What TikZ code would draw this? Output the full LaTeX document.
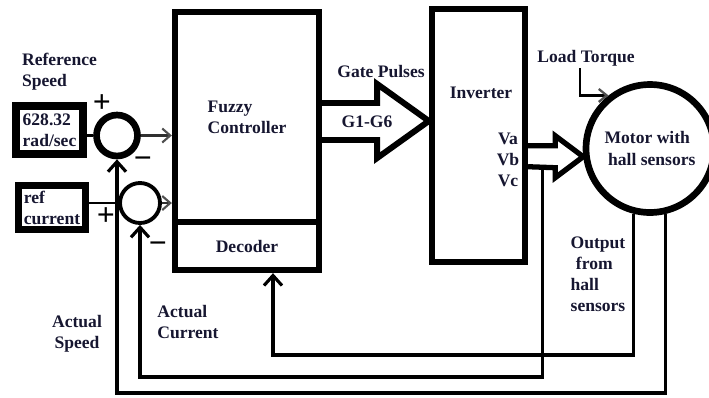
\documentclass[tikz,border=0pt]{standalone}
\usepackage{fontspec}
\setmainfont{Liberation Serif}
\usetikzlibrary{arrows.meta, positioning, calc}
\definecolor{diagText}{RGB}{22,22,48}
\definecolor{tipGray}{RGB}{80,80,80}
\tikzset{
    ctrlbox/.style={
        rectangle,
        draw=black,
        line width=3.6pt,
        fill=white,
        align=left,
        minimum width=2.88cm,
        font=\bfseries,
        text=diagText
    },
    inbox/.style={
        rectangle,
        draw=black,
        line width=4.3pt,
        fill=white,
        align=left,
        inner sep=1pt,
        minimum width=1.34cm,
        font=\bfseries,
        text=diagText
    },
    motornode/.style={
        circle,
        draw=black,
        line width=3.8pt,
        align=left,
        inner sep=0pt,
        minimum size=2.56cm,
        font=\bfseries,
        text=diagText
    },
    sumnode/.style={circle, draw=black, fill=white, inner sep=0pt},
    signlbl/.style={inner sep=0pt, font=\bfseries\fontsize{18}{18}\selectfont},
    lbl/.style={inner sep=1pt, align=left, font=\bfseries, text=diagText},
    blockarrow/.style={draw=black, line width=3.4pt},
    inline/.style={draw=black, line width=1.3pt},
    sumarrow/.style={-{Straight Barb[length=1.6mm, width=2.8mm, color=tipGray]}, draw=tipGray!60!black, line width=1.2pt},
    fbarrow/.style={-{Straight Barb[length=2mm, width=3.6mm]}, draw=black, line width=1.8pt},
    loadarrow/.style={-{Straight Barb[length=1.6mm, width=2.6mm, color=tipGray]}, draw=black, line width=1.3pt}
}
\begin{document}
\begin{tikzpicture}[x=0.02cm, y=-0.02cm]
        \useasboundingbox (0,0) rectangle (709,397);

        \node[ctrlbox, minimum height=4.2cm] (fuzzy) at (247,117) {Fuzzy\\Controller};
        \node[ctrlbox, minimum height=0.96cm, align=center] (decoder) at (247,246) {Decoder};
        \node[ctrlbox, minimum width=1.86cm, minimum height=5.06cm] (inverter) at (478.5,135.5) {};
        \node[motornode] (motor) at (650,148.5) {Motor with\\\hspace*{2pt}hall sensors};

        \node[inbox, minimum height=0.96cm] (spdbox) at (49.5,130) {628.32\\rad/sec};
        \node[inbox, minimum height=0.88cm, line width=4pt] (curbox) at (52,207.5) {ref\\current};
        \node[sumnode, minimum size=0.82cm, line width=3.8pt] (sumspd) at (117,135.5) {};
        \node[sumnode, minimum size=0.8cm, line width=2.2pt] (sumcur) at (140,203) {};

        \node[signlbl] (plusspd) at (102,103.5) {+};
        \node[signlbl] (minusspd) at (143,163) {−};
        \node[signlbl] (pluscur) at (106,217) {+};
        \node[signlbl] (minuscur) at (158,248) {−};

        \node[lbl, anchor=west] (refspd) at (20,72) {Reference\\Speed};
        \node[lbl] (gate) at (381,72) {Gate Pulses};
        \node[lbl] (gsig) at (367,122) {G1-G6};
        \node[lbl] (invlbl) at (481,93) {Inverter};
        \node[lbl, align=center] (phases) at (508,160) {Va\\Vb\\Vc};
        \node[lbl] (torque) at (586,58) {Load Torque};
        \node[lbl] (hallout) at (598,274) {Output\\\hspace*{3pt}from\\hall\\sensors};
        \node[lbl] (actcur) at (188,322) {Actual\\Current};
        \node[lbl, align=center] (actspd) at (77,334) {Actual\\Speed};

        \coordinate (gtail) at (fuzzy.east |- 0,121);
        \coordinate (gtip) at (inverter.west |- gtail);
        \coordinate (vtail) at (inverter.east |- motor.187);
        \coordinate (curtap) at ($(vtail)+(14,10)$);
        \coordinate (raildec) at (0,355);
        \coordinate (railcur) at (0,377);
        \coordinate (railspd) at (0,393);

        \draw[blockarrow] ($(gtail)+(0,-18)$) -- ++(55,0) -- ++(0,-19) -- (gtip) -- ($(gtail)+(55,37)$) -- ++(0,-18) -- ($(gtail)+(0,19)$);
        \draw[blockarrow, line width=3pt] ($(vtail)+(0,-11)$) -- ++(27,0) -- ++(0,-10) -- (motor.187) -- ($(vtail)+(27,21)$) -- ++(0,-10) -- ($(vtail)+(0,10)$);

        \draw[inline] (spdbox.east |- sumspd.west) -- (sumspd.west);
        \draw[inline] (curbox.east |- sumcur.west) -- (sumcur.west);
        \draw[sumarrow] (sumspd.east) -- (sumspd.east -| fuzzy.west);
        \draw[sumarrow] (sumcur.east) -- (sumcur.east -| fuzzy.west);
        \draw[loadarrow] ([xshift=-0.12cm]torque.south) |- (motor.128);

        \draw[fbarrow] (motor.256) -- (motor.256 |- raildec) -| ([xshift=0.52cm]decoder.south);
        \draw[fbarrow] (curtap) -- (curtap |- railcur) -| (sumcur.south);
        \draw[fbarrow] (motor.283) -- (motor.283 |- railspd) -| (sumspd.south);
    \end{tikzpicture}
\end{document}
